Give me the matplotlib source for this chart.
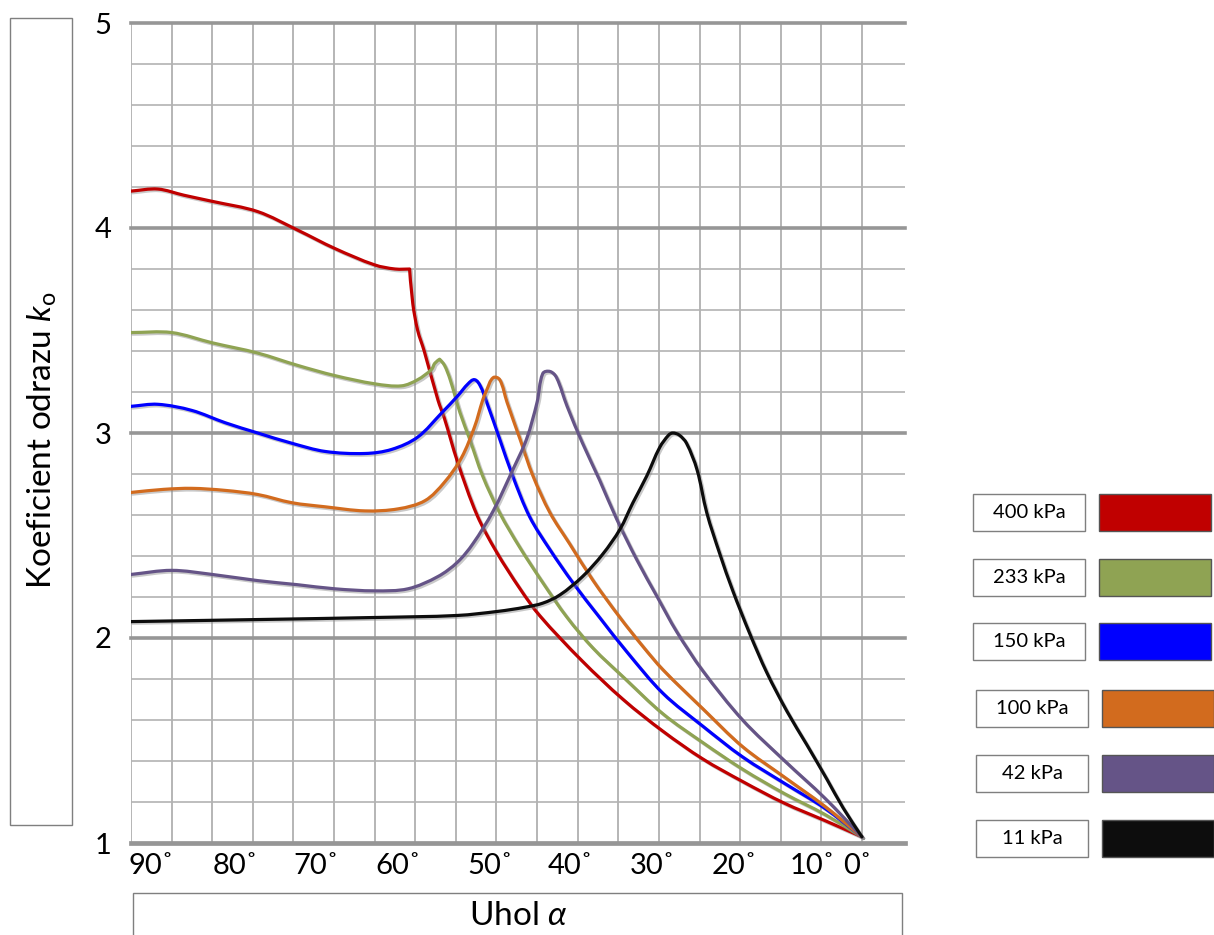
import matplotlib
matplotlib.use("Agg")
import numpy as np
import matplotlib.pyplot as plt
import matplotlib.patheffects as pe
from matplotlib.patches import Rectangle, PathPatch
from matplotlib.path import Path
from matplotlib.transforms import ScaledTranslation

plt.rcParams['font.family'] = ['Lato', 'DejaVu Sans']
plt.rcParams['mathtext.fontset'] = 'custom'
plt.rcParams['mathtext.rm'] = 'Lato'
plt.rcParams['mathtext.it'] = 'Lato:italic'

# --- data (angle in degrees, coefficient k_o) ---
ANGLE_400 = [90, 86.7, 83.5, 80, 74.4, 69.5, 64.9, 60, 57.5, 55.7, 55.3, 54.7, 53.9, 52.2,
             51.4, 49.8, 47.4, 45, 42.1, 39.7, 34.5, 29.4, 24.5, 19.6, 14.7, 9.6, 4.6, 0]
K_400 = [4.18, 4.19, 4.16, 4.13, 4.08, 3.99, 3.90, 3.82, 3.80, 3.80, 3.63, 3.50, 3.40, 3.16,
         3.07, 2.86, 2.60, 2.42, 2.24, 2.11, 1.89, 1.70, 1.545, 1.41, 1.30, 1.195, 1.11, 1.03]

ANGLE_233 = [90, 85, 80, 74.4, 69.5, 64.9, 60, 56.7, 54.7, 53.0, 52.6, 52.0, 51.4, 50.7, 49.5,
             48.3, 46.7, 44.6, 42.1, 39.3, 36.3, 33.1, 29.4, 24.5, 19.6, 14.7, 9.5, 4.6, 0]
K_233 = [3.49, 3.49, 3.44, 3.39, 3.33, 3.28, 3.24, 3.23, 3.26, 3.31, 3.34, 3.36, 3.33, 3.26, 3.10,
         2.97, 2.79, 2.61, 2.44, 2.27, 2.10, 1.95, 1.81, 1.63, 1.49, 1.36, 1.24, 1.14, 1.03]

ANGLE_150 = [90, 86.7, 82.5, 78.4, 74.4, 70.2, 66.1, 61.2, 57.9, 54.7, 51.7, 49.8, 48.5, 47.7,
             47.0, 46.2, 44.6, 43.0, 40.9, 38.4, 35.6, 32.3, 28.9, 24.5, 19.6, 14.7, 9.5, 4.6, 0]
K_150 = [3.13, 3.14, 3.11, 3.05, 3.00, 2.95, 2.91, 2.90, 2.92, 2.98, 3.10, 3.18, 3.24, 3.26,
         3.23, 3.15, 2.97, 2.79, 2.59, 2.43, 2.27, 2.10, 1.93, 1.73, 1.57, 1.42, 1.29, 1.17, 1.03]

ANGLE_100 = [90, 86, 82.5, 78.4, 74.4, 70.2, 66.1, 61.2, 57.1, 53.8, 51.4, 49.3, 47.7, 46.7,
             46.2, 45.4, 44.6, 43.7, 42.1, 40.5, 38.4, 36.0, 33.1, 29.8, 27.0, 24.5, 19.6, 14.7,
             9.5, 4.6, 0]
K_100 = [2.71, 2.725, 2.73, 2.72, 2.70, 2.66, 2.64, 2.62, 2.63, 2.67, 2.76, 2.88, 3.03, 3.16,
         3.21, 3.27, 3.26, 3.15, 2.97, 2.79, 2.61, 2.46, 2.28, 2.10, 1.96, 1.845, 1.655, 1.47,
         1.32, 1.18, 1.03]

ANGLE_42 = [90, 85, 80, 74.4, 69.5, 64.9, 60, 55.9, 52.2, 49.8, 47.9, 45.4, 43.0, 41.3, 40.0,
            39.3, 38.4, 37.6, 36.3, 34.4, 32.3, 30.2, 27.7, 25.2, 22.8, 19.6, 14.7, 9.5, 4.6, 0]
K_42 = [2.31, 2.33, 2.31, 2.28, 2.26, 2.24, 2.23, 2.24, 2.30, 2.37, 2.46, 2.62, 2.82, 2.97, 3.15,
        3.29, 3.30, 3.27, 3.13, 2.95, 2.77, 2.58, 2.38, 2.20, 2.03, 1.84, 1.60, 1.40, 1.22, 1.03]

ANGLE_11 = [90, 74.4, 60, 49.8, 44.8, 41.5, 39.3, 37.2, 34.4, 31.9, 29.8, 28.2, 26.5, 24.9,
            23.8, 23.3, 22.5, 21.6, 20.3, 19.1, 17.5, 15.9, 13.8, 11.7, 9.2, 6.8, 4.3, 2.3, 0]
K_11 = [2.08, 2.09, 2.10, 2.11, 2.13, 2.15, 2.17, 2.21, 2.30, 2.41, 2.53, 2.66, 2.79, 2.93,
        2.99, 3.00, 2.99, 2.95, 2.82, 2.61, 2.41, 2.23, 2.02, 1.83, 1.64, 1.48, 1.31, 1.17, 1.03]

SERIES = [
    ("400 kPa", ANGLE_400, K_400, "#C00000"),
    ("233 kPa", ANGLE_233, K_233, "#8FA353"),
    ("150 kPa", ANGLE_150, K_150, "#0000FF"),
    ("100 kPa", ANGLE_100, K_100, "#D26B1E"),
    ("42 kPa", ANGLE_42, K_42, "#655487"),
    ("11 kPa", ANGLE_11, K_11, "#0D0D0D"),
]

ANGLE_TICKS = [90, 80, 70, 60, 50, 40, 30, 20, 10, 0]
ANGLE_LABELS = ["90˚", "80˚", "70˚", "60˚", "50˚", "40˚", "30˚", "20˚", "10˚", "0˚"]
K_TICKS = [1, 2, 3, 4, 5]

# --- layout (pixels in a 1214 x 935 canvas) ---
W, H = 1214, 935
TICK_SHIFT_PX = [20, 23, 23, 23, 34, 33, 34, 35, 32, -5]
LEGEND_ROWS_Y = [494, 559, 623, 690, 755, 820]
LEGEND_ROWS_X = [973, 973, 973, 976, 976, 976]
CORNER_DEG = 82  # turns sharper than this stay as corners


def smooth_path(ax, xs, ys):
    """Bezier path through the points, like a spreadsheet 'smoothed line'."""
    p = ax.transData.transform(np.column_stack([xs, ys]))
    n = len(p)
    tang = np.zeros_like(p)
    for i in range(n):
        d = p[min(i + 1, n - 1)] - p[max(i - 1, 0)]
        if 0 < i < n - 1:
            din = p[i] - p[i - 1]
            dout = p[i + 1] - p[i]
            cosang = np.dot(din, dout) / (np.linalg.norm(din) * np.linalg.norm(dout))
            if np.degrees(np.arccos(np.clip(cosang, -1, 1))) > CORNER_DEG:
                continue
        tang[i] = d / np.linalg.norm(d)
    verts = [p[0]]
    codes = [Path.MOVETO]
    for i in range(n - 1):
        seg = np.linalg.norm(p[i + 1] - p[i])
        verts += [p[i] + tang[i] * seg / 3, p[i + 1] - tang[i + 1] * seg / 3, p[i + 1]]
        codes += [Path.CURVE4] * 3
    inv = ax.transData.inverted()
    return Path(inv.transform(np.array(verts)), codes)


fig = plt.figure(figsize=(W / 100, H / 100), dpi=100)
ax = fig.add_axes([131 / W, (H - 843) / H, (905 - 131) / W, (843 - 23) / H])

ax.set_xlim(90, -5.3)
ax.set_ylim(1, 5)

# grid
ax.set_xticks(ANGLE_TICKS)
ax.set_xticks([a for a in range(0, 91, 5)], minor=True)
ax.set_yticks(K_TICKS)
ax.set_yticks([1 + i * 0.2 for i in range(21)], minor=True)
ax.grid(which="both", axis="x", color="#a9a9a9", lw=1.2)
ax.grid(which="minor", axis="y", color="#b3b3b3", lw=1.2)
for k in K_TICKS:
    ax.axhline(k, color="#969696", lw=2.6 if k > 1 else 3.4, clip_on=False, zorder=1)
ax.set_axisbelow(True)
for s in ax.spines.values():
    s.set_visible(False)

ax.set_xticklabels(ANGLE_LABELS)
ax.tick_params(axis="x", which="both", length=0, pad=7, labelsize=21)
ax.tick_params(axis="y", which="both", length=0, pad=14, labelsize=21)
for lab, dx in zip(ax.get_xticklabels(), TICK_SHIFT_PX):
    lab.set_transform(lab.get_transform() + ScaledTranslation(dx / 100, 0, fig.dpi_scale_trans))

shadow = [pe.SimpleLineShadow(offset=(1.2, -1.2), shadow_color="#888888", alpha=0.45), pe.Normal()]
for name, ang, kv, col in SERIES:
    patch = PathPatch(smooth_path(ax, ang, kv), fill=False, edgecolor=col, lw=2.3,
                      capstyle="round", joinstyle="round", zorder=3)
    patch.set_path_effects(shadow)
    ax.add_patch(patch)

# y label box
fig.patches.append(Rectangle((10 / W, 1 - 825 / H), 62 / W, 807 / H, transform=fig.transFigure,
                             fill=False, edgecolor="#7f7f7f", lw=1))
fig.text(42 / W, 1 - 440 / H, r"Koeficient odrazu $\mathit{k}_\mathrm{o}$", rotation=90,
         ha="center", va="center", fontsize=24)

# x label box
fig.patches.append(Rectangle((133 / W, -0.01), (902 - 133) / W, 1 - 893 / H + 0.01,
                             transform=fig.transFigure, fill=False, edgecolor="#7f7f7f", lw=1))
fig.text(518 / W, 1 - 916 / H, r"Uhol $\alpha$", ha="center", va="center", fontsize=24)

# legend boxes
for (name, ang, kv, col), y0, x0 in zip(SERIES, LEGEND_ROWS_Y, LEGEND_ROWS_X):
    fig.patches.append(Rectangle((x0 / W, 1 - (y0 + 37) / H), 112 / W, 37 / H,
                                 transform=fig.transFigure, facecolor="white",
                                 edgecolor="#7f7f7f", lw=1))
    fig.patches.append(Rectangle(((x0 + 126) / W, 1 - (y0 + 37) / H), 112 / W, 37 / H,
                                 transform=fig.transFigure, facecolor=col,
                                 edgecolor="#555555", lw=1))
    fig.text((x0 + 56) / W, 1 - (y0 + 18.5) / H, name, ha="center", va="center", fontsize=14.5)

fig.savefig("out.png", dpi=100)
